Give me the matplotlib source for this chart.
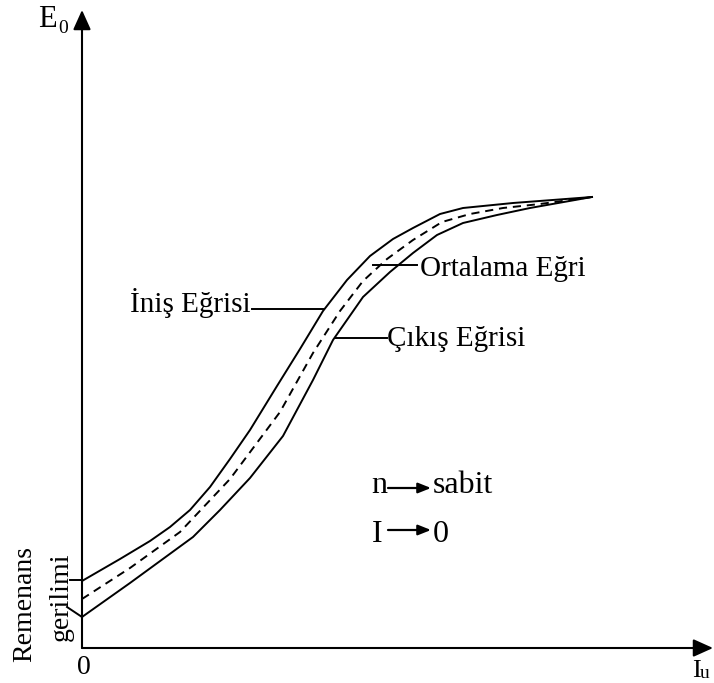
import matplotlib
matplotlib.use("Agg")
import matplotlib.pyplot as plt

plt.rcParams['font.family'] = ['Liberation Serif', 'DejaVu Serif']

# Curve data (I_u, E_0) in arbitrary units
inis_x = [0, 38, 68, 88, 108, 128, 148, 168, 195, 218, 241, 265, 288, 311, 331, 358, 381, 431, 510]
inis_y = [67, 89, 107, 121, 138, 161, 189, 218, 262, 299, 337, 368, 392, 409, 420, 434, 440, 445, 451]

cikis_x = [0, 48, 111, 138, 168, 201, 231, 251, 281, 308, 331, 355, 381, 415, 448, 510]
cikis_y = [31, 65, 111, 138, 170, 212, 268, 308, 351, 376, 395, 413, 425, 433, 440, 451]

ort_x = [0, 48, 98, 148, 198, 231, 258, 281, 305, 331, 360, 388, 421, 458, 510]
ort_y = [49, 80, 116, 169, 236, 295, 337, 367, 389, 408, 426, 434, 440, 444, 451]

labels = ["İniş Eğrisi", "Ortalama Eğri", "Çıkış Eğrisi"]

fig = plt.figure(figsize=(7.14, 6.83), dpi=100)
ax = fig.add_axes([0, 0, 1, 1])
ax.set_xlim(-82, 632)
ax.set_ylim(-35, 648)
ax.axis('off')

lw = 1.4
ax.plot(inis_x, inis_y, color='black', lw=lw, solid_joinstyle='round')
ax.plot(cikis_x, cikis_y, color='black', lw=lw, solid_joinstyle='round')
ax.plot(ort_x, ort_y, color='black', lw=lw, linestyle=(0, (4.2, 3.0)))

# Axes with arrows
arrow_style = '-|>,head_length=0.6,head_width=0.27'
ax.annotate('', xy=(0, 638), xytext=(0, 0),
            arrowprops=dict(arrowstyle=arrow_style, mutation_scale=20, lw=1.5,
                            color='black', shrinkA=0, shrinkB=0))
ax.annotate('', xy=(631, 0), xytext=(0, 0),
            arrowprops=dict(arrowstyle=arrow_style, mutation_scale=20, lw=1.5,
                            color='black', shrinkA=0, shrinkB=0))

# Axis labels
ax.text(-44, 621, "E", fontsize=22, ha='left', va='baseline')
ax.text(-24, 615, "0", fontsize=14, ha='left', va='baseline')
ax.text(610, -29, "I", fontsize=19, ha='left', va='baseline')
ax.text(618, -30, "u", fontsize=14, ha='left', va='baseline')
ax.text(2, -19, "0", fontsize=20, ha='center', va='center')

# Leader lines and curve labels
ax.plot([170, 241], [339, 339], color='black', lw=lw)
ax.text(169, 336, labels[0], fontsize=21, ha='right', va='baseline')
ax.plot([291, 335], [383, 383], color='black', lw=lw)
ax.text(338, 372, labels[1], fontsize=21, ha='left', va='baseline')
ax.plot([253, 305], [310, 310], color='black', lw=lw)
ax.text(305, 302, labels[2], fontsize=21, ha='left', va='baseline')

# Remanence markers
ax.plot([-12, 0], [68, 68], color='black', lw=lw)
ax.plot([-15, 0], [41, 31], color='black', lw=lw)
ax.text(-57, 44, "Remenans", fontsize=20, rotation=90, ha='center', va='center')
ax.text(-21, 51, "gerilimi", fontsize=20, rotation=90, ha='center', va='center')

# Conditions
arrow_small = dict(arrowstyle='-|>,head_length=0.55,head_width=0.22',
                   mutation_scale=14, lw=1.6, color='black', shrinkA=0, shrinkB=0)
ax.text(289, 155, "n", fontsize=23, ha='left', va='baseline')
ax.annotate('', xy=(349, 160), xytext=(306, 160), arrowprops=arrow_small)
ax.text(351, 155, "sabit", fontsize=23, ha='left', va='baseline')
ax.text(290, 106, "I", fontsize=23, ha='left', va='baseline')
ax.annotate('', xy=(349, 118), xytext=(306, 118), arrowprops=arrow_small)
ax.text(351, 106, "0", fontsize=23, ha='left', va='baseline')

fig.savefig("out.png", dpi=100)
